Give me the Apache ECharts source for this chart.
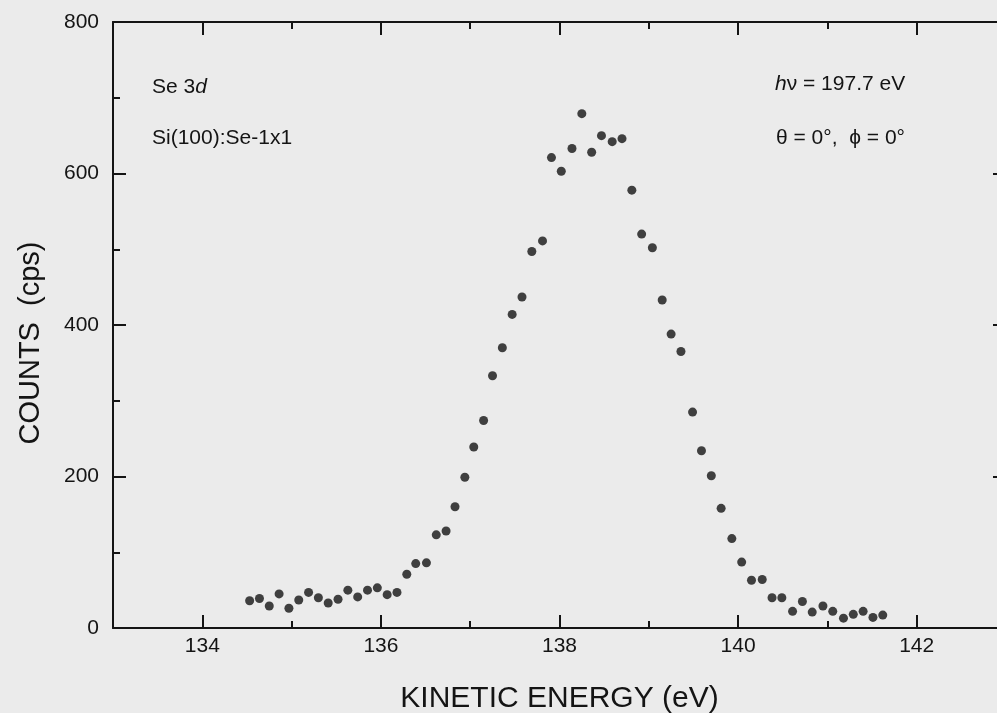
<!DOCTYPE html>
<html><head><meta charset="utf-8">
<script src="https://cdn.jsdelivr.net/npm/echarts@6/dist/echarts.min.js"></script>
<style>html,body{margin:0;padding:0;background:#ebebeb}#c{width:997px;height:713px}</style>
</head><body><div id="c"></div>
<script>
// Kinetic energy (eV) of each data point
const energy = [
  134.53,134.64,134.75,134.86,134.97,135.08,135.19,135.30,135.41,135.52,
  135.63,135.74,135.85,135.96,136.07,136.18,136.29,136.39,136.51,136.62,
  136.73,136.83,136.94,137.04,137.15,137.25,137.36,137.47,137.58,137.69,
  137.81,137.91,138.02,138.14,138.25,138.36,138.47,138.59,138.70,138.81,
  138.92,139.04,139.15,139.25,139.36,139.49,139.59,139.70,139.81,139.93,
  140.04,140.15,140.27,140.38,140.49,140.61,140.72,140.83,140.95,141.06,
  141.18,141.29,141.40,141.51,141.62
];
// Counts (cps)
const counts = [
  36,39,29,45,26,37,47,40,33,38,
  50,41,50,53,44,47,71,85,86,123,
  128,160,199,239,274,333,370,414,437,497,
  511,621,603,633,679,628,650,642,646,578,
  520,502,433,388,365,285,234,201,158,118,
  87,63,64,40,40,22,35,21,29,22,
  13,18,22,14,17
];
const xMajorTicks = [134,136,138,140,142];
const xMinorTicks = [135,137,139,141];
const xRange = [133,143];
const yRange = [0,800];
const yStep = 200;

const ink = '#141414';
const font = '"Liberation Sans", Arial, Helvetica, sans-serif';
const points = energy.map((e,i)=>[e,counts[i]]);

function xAx(pos, major, labels){
  return {
    type:'value', position:pos, min:xRange[0], max:xRange[1],
    axisLine:{show:major, lineStyle:{color:ink,width:2}},
    axisTick:{show:true, inside:true, length: major?13:7,
      customValues: major?xMajorTicks:xMinorTicks, lineStyle:{color:ink,width:2}},
    axisLabel:{show:labels, customValues:xMajorTicks, color:ink, fontSize:21, fontFamily:font, margin:8},
    splitLine:{show:false},
    name: (labels? 'KINETIC ENERGY (eV)':''),
    nameLocation:'middle', nameGap:56,
    nameTextStyle:{color:ink, fontSize:30, fontFamily:font}
  };
}
function yAx(pos, labels){
  return {
    type:'value', position:pos, min:yRange[0], max:yRange[1], interval:yStep,
    axisLine:{show:true, lineStyle:{color:ink,width:2}},
    axisTick:{show:true, inside:true, length:13, lineStyle:{color:ink,width:2}},
    minorTick:{show:true, splitNumber:2, length:7, lineStyle:{color:ink,width:2}},
    axisLabel:{show:labels, color:ink, fontSize:21, fontFamily:font, margin:14},
    splitLine:{show:false},
    name: labels? 'COUNTS  (cps)':'',
    nameLocation:'middle', nameGap:68,
    nameTextStyle:{color:ink, fontSize:29, fontFamily:font, padding:[0,36,0,0]}
  };
}

const chart = echarts.init(document.getElementById('c'), null, {renderer:'canvas'});
chart.setOption({
  backgroundColor:'#ebebeb',
  animation:false,
  grid:{left:113, right:-9, top:22, bottom:85, containLabel:false, outerBoundsMode:'none'},
  xAxis:[ xAx('bottom',true,true), xAx('bottom',false,false), xAx('top',true,false), xAx('top',false,false) ],
  yAxis:[ yAx('left',true), yAx('right',false) ],
  series:[{
    type:'scatter', xAxisIndex:0, yAxisIndex:0,
    data:points, symbol:'circle', symbolSize:9,
    itemStyle:{color:ink}
  }],
  graphic:[
    {type:'text', left:152, top:77, style:{text:'{n|Se 3}{i|d}', rich:{n:{fontSize:21,fontFamily:font,fill:ink}, i:{fontSize:21,fontFamily:font,fontStyle:'italic',fill:ink}}}},
    {type:'text', left:152, top:128, style:{text:'Si(100):Se-1x1', fontSize:21, fontFamily:font, fill:ink}},
    {type:'text', left:775, top:74, style:{text:'{i|h}{n|ν = 197.7 eV}', rich:{n:{fontSize:21,fontFamily:font,fill:ink}, i:{fontSize:21,fontFamily:font,fontStyle:'italic',fill:ink}}}},
    {type:'text', left:776, top:128, style:{text:'θ = 0°,  ϕ = 0°', fontSize:21, fontFamily:font, fill:ink}}
  ]
});
</script></body></html>
